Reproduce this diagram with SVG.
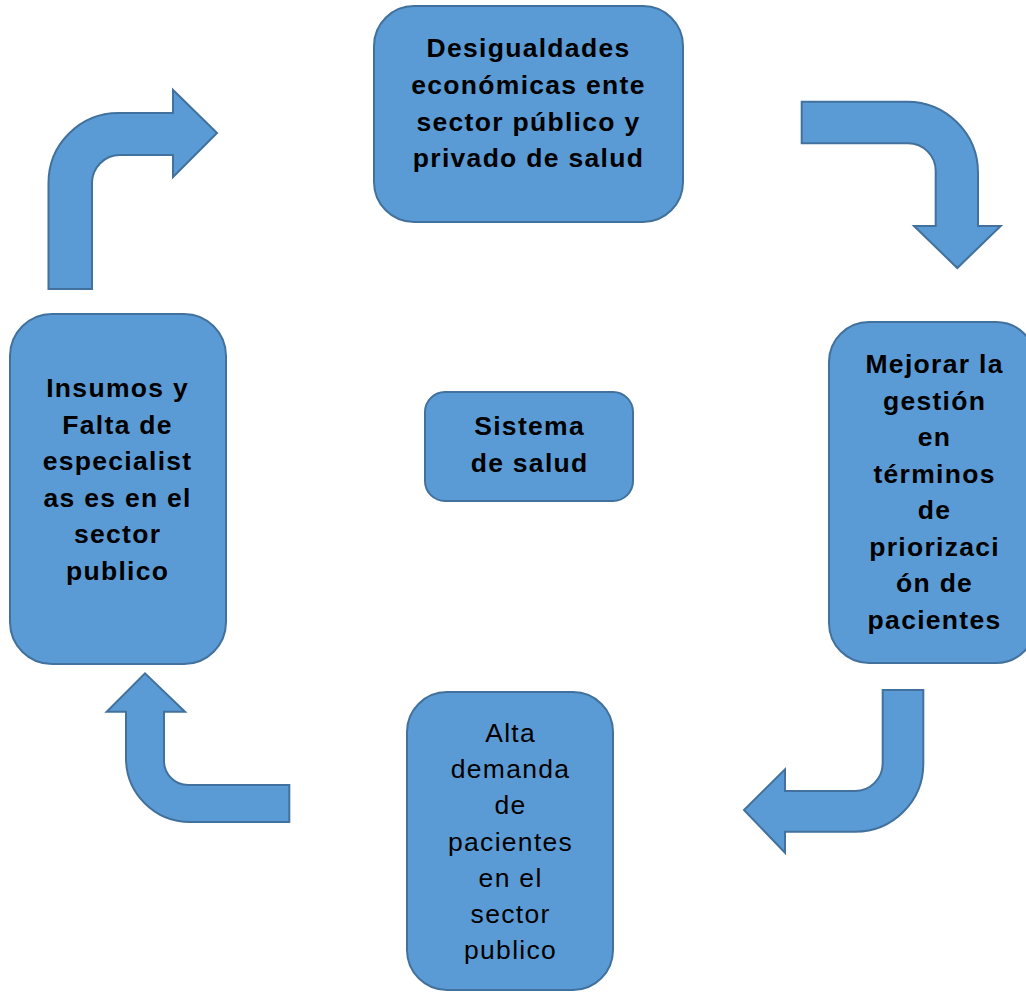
<svg xmlns="http://www.w3.org/2000/svg" width="1026" height="992" viewBox="0 0 1026 992">
<style>
.box{fill:#5B9BD5;stroke:#41719C;stroke-width:2}
.arr{fill:#5B9BD5;stroke:#41719C;stroke-width:2;stroke-linejoin:miter}
.t{font-family:"Liberation Sans",Arial,sans-serif;font-size:26.5px;font-weight:bold;fill:#000;text-anchor:middle;letter-spacing:1.3px}
.r{font-family:"Liberation Sans",Arial,sans-serif;font-size:26.5px;fill:#000;text-anchor:middle;letter-spacing:1.3px}
</style>
<rect width="1026" height="992" fill="#fff"/>
<g id="connectors">
<path class="arr" d="M48.5,289 L48.5,183 A70,70 0 0 1 118.5,113 L173,113 L173,90 L217,133 L173,177 L173,155 L120,155 A28,28 0 0 0 92,183 L92,289 Z"/>
<path class="arr" d="M801.7,101.7 L907,101.7 A71,71 0 0 1 978,172.7 L978,226 L1000.7,226 L957.3,268 L914,226 L935.7,226 L935.7,171 A27.7,27.7 0 0 0 908,143.3 L801.7,143.3 Z"/>
<path class="arr" d="M882.7,690 L923.3,690 L923.3,763.7 A68,68 0 0 1 855.3,831.7 L785,831.7 L785,852.7 L744,810 L785,769.3 L785,791 L855,791 A27.7,27.7 0 0 0 882.7,763.3 Z"/>
<path class="arr" d="M289.3,785 L188,785 A24,24 0 0 1 164,761 L164,711.7 L185,711.7 L145,673.3 L106.7,711.7 L126,711.7 L126,758 A64,64 0 0 0 190,822 L289.3,822 Z"/>
</g>
<g id="node-top">
<rect class="box" x="374" y="6" width="309" height="216" rx="40" ry="40"/>
<text class="t" x="528.5" y="56.5">Desigualdades</text>
<text class="t" x="528.5" y="94">económicas ente</text>
<text class="t" x="528.5" y="131">sector público y</text>
<text class="t" x="528.5" y="167">privado de salud</text>
</g>
<g id="node-right">
<rect class="box" x="829" y="322" width="207" height="341" rx="40" ry="40"/>
<text class="t" x="934.6" y="373">Mejorar la</text>
<text class="t" x="934.6" y="409.5">gestión</text>
<text class="t" x="934.6" y="446">en</text>
<text class="t" x="934.6" y="482.5">términos</text>
<text class="t" x="934.6" y="519">de</text>
<text class="t" x="934.6" y="555.5">priorizaci</text>
<text class="t" x="934.6" y="592">ón de</text>
<text class="t" x="934.6" y="628.5">pacientes</text>
</g>
<g id="node-bottom">
<rect class="box" x="407" y="692" width="206" height="298" rx="40" ry="40"/>
<text class="r" x="510.6" y="742">Alta</text>
<text class="r" x="510.6" y="778">demanda</text>
<text class="r" x="510.6" y="814">de</text>
<text class="r" x="510.6" y="850.5">pacientes</text>
<text class="r" x="510.6" y="887">en el</text>
<text class="r" x="510.6" y="923">sector</text>
<text class="r" x="510.6" y="959">publico</text>
</g>
<g id="node-left">
<rect class="box" x="10" y="314" width="216" height="350" rx="42" ry="42"/>
<text class="t" x="117.6" y="397">Insumos y</text>
<text class="t" x="117.6" y="433.5">Falta de</text>
<text class="t" x="117.6" y="470">especialist</text>
<text class="t" x="117.6" y="506.5">as es en el</text>
<text class="t" x="117.6" y="543">sector</text>
<text class="t" x="117.6" y="579.5">publico</text>
</g>
<g id="node-center">
<rect class="box" x="425" y="392" width="208" height="109" rx="20" ry="20"/>
<text class="t" x="529.6" y="435">Sistema</text>
<text class="t" x="529.6" y="472">de salud</text>
</g>
</svg>
